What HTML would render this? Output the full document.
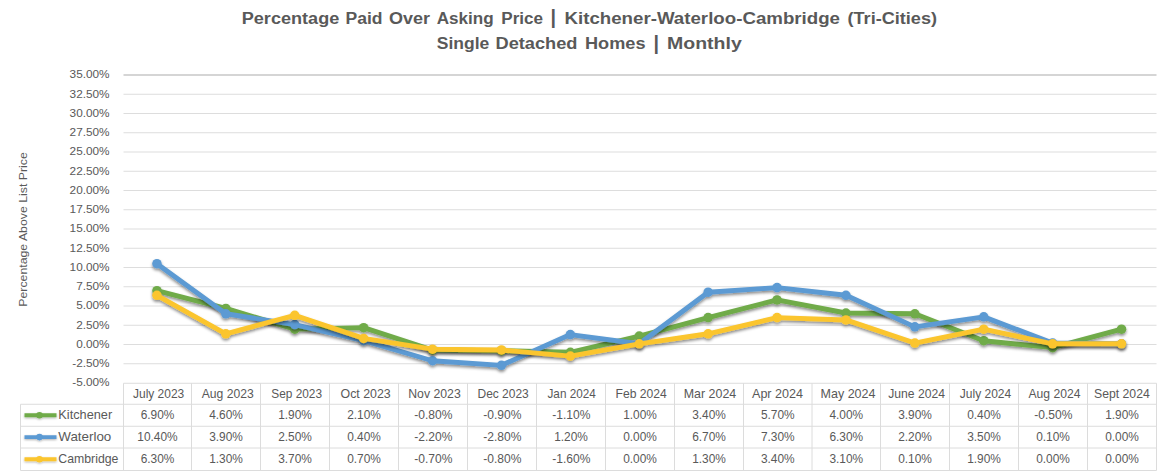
<!DOCTYPE html>
<html lang="en"><head><meta charset="utf-8"><title>Percentage Paid Over Asking Price</title>
<style>html,body{margin:0;padding:0;background:#fff}body{width:1164px;height:473px;overflow:hidden}svg{display:block}text{font-family:"Liberation Sans",Arial,sans-serif;fill:#595959}</style></head><body>
<svg width="1164" height="473" viewBox="0 0 1164 473">
<defs><filter id="sh" x="-5%" y="-30%" width="110%" height="170%"><feGaussianBlur in="SourceAlpha" stdDeviation="1.6"/><feOffset dx="0" dy="1.6" result="b"/><feFlood flood-color="#000" flood-opacity="0.45"/><feComposite in2="b" operator="in"/><feMerge><feMergeNode/><feMergeNode in="SourceGraphic"/></feMerge></filter><filter id="sh2" x="-20%" y="-150%" width="140%" height="400%"><feGaussianBlur in="SourceAlpha" stdDeviation="1"/><feOffset dx="0" dy="1" result="b"/><feFlood flood-color="#000" flood-opacity="0.3"/><feComposite in2="b" operator="in"/><feMerge><feMergeNode/><feMergeNode in="SourceGraphic"/></feMerge></filter></defs>
<rect width="1164" height="473" fill="#fff"/>
<text font-size="16.80" font-weight="bold"><tspan x="241.75" y="23.80" textLength="97.49" lengthAdjust="spacingAndGlyphs">Percentage</tspan> <tspan x="345.50" y="23.80" textLength="37.00" lengthAdjust="spacingAndGlyphs">Paid</tspan> <tspan x="389.00" y="23.80" textLength="41.01" lengthAdjust="spacingAndGlyphs">Over</tspan> <tspan x="436.75" y="23.80" textLength="57.00" lengthAdjust="spacingAndGlyphs">Asking</tspan> <tspan x="501.25" y="23.80" textLength="41.76" lengthAdjust="spacingAndGlyphs">Price</tspan> <tspan x="550.50" y="24.30" font-size="19.66">|</tspan> <tspan x="564.50" y="23.80" textLength="275.50" lengthAdjust="spacingAndGlyphs">Kitchener-Waterloo-Cambridge</tspan> <tspan x="847.50" y="23.80" textLength="89.50" lengthAdjust="spacingAndGlyphs">(Tri-Cities)</tspan></text>
<text font-size="16.80" font-weight="bold"><tspan x="436.75" y="49.30" textLength="52.49" lengthAdjust="spacingAndGlyphs">Single</tspan> <tspan x="495.50" y="49.30" textLength="81.99" lengthAdjust="spacingAndGlyphs">Detached</tspan> <tspan x="585.00" y="49.30" textLength="60.51" lengthAdjust="spacingAndGlyphs">Homes</tspan> <tspan x="653.50" y="49.80" font-size="19.66">|</tspan> <tspan x="667.00" y="49.30" textLength="74.74" lengthAdjust="spacingAndGlyphs">Monthly</tspan></text>
<line x1="123.50" y1="75.00" x2="1156.50" y2="75.00" stroke="#D5D5D5" stroke-width="1.8"/>
<text x="109.6" y="78.40" text-anchor="end" font-size="11.8">35.00%</text>
<line x1="123.50" y1="94.25" x2="1156.50" y2="94.25" stroke="#DDDDDD" stroke-width="1"/>
<text x="109.6" y="97.65" text-anchor="end" font-size="11.8">32.50%</text>
<line x1="123.50" y1="113.50" x2="1156.50" y2="113.50" stroke="#DDDDDD" stroke-width="1"/>
<text x="109.6" y="116.90" text-anchor="end" font-size="11.8">30.00%</text>
<line x1="123.50" y1="132.75" x2="1156.50" y2="132.75" stroke="#DDDDDD" stroke-width="1"/>
<text x="109.6" y="136.15" text-anchor="end" font-size="11.8">27.50%</text>
<line x1="123.50" y1="152.00" x2="1156.50" y2="152.00" stroke="#DDDDDD" stroke-width="1"/>
<text x="109.6" y="155.40" text-anchor="end" font-size="11.8">25.00%</text>
<line x1="123.50" y1="171.25" x2="1156.50" y2="171.25" stroke="#DDDDDD" stroke-width="1"/>
<text x="109.6" y="174.65" text-anchor="end" font-size="11.8">22.50%</text>
<line x1="123.50" y1="190.50" x2="1156.50" y2="190.50" stroke="#DDDDDD" stroke-width="1"/>
<text x="109.6" y="193.90" text-anchor="end" font-size="11.8">20.00%</text>
<line x1="123.50" y1="209.75" x2="1156.50" y2="209.75" stroke="#DDDDDD" stroke-width="1"/>
<text x="109.6" y="213.15" text-anchor="end" font-size="11.8">17.50%</text>
<line x1="123.50" y1="229.00" x2="1156.50" y2="229.00" stroke="#DDDDDD" stroke-width="1"/>
<text x="109.6" y="232.40" text-anchor="end" font-size="11.8">15.00%</text>
<line x1="123.50" y1="248.25" x2="1156.50" y2="248.25" stroke="#DDDDDD" stroke-width="1"/>
<text x="109.6" y="251.65" text-anchor="end" font-size="11.8">12.50%</text>
<line x1="123.50" y1="267.50" x2="1156.50" y2="267.50" stroke="#DDDDDD" stroke-width="1"/>
<text x="109.6" y="270.90" text-anchor="end" font-size="11.8">10.00%</text>
<line x1="123.50" y1="286.75" x2="1156.50" y2="286.75" stroke="#DDDDDD" stroke-width="1"/>
<text x="109.6" y="290.15" text-anchor="end" font-size="11.8">7.50%</text>
<line x1="123.50" y1="306.00" x2="1156.50" y2="306.00" stroke="#DDDDDD" stroke-width="1"/>
<text x="109.6" y="309.40" text-anchor="end" font-size="11.8">5.00%</text>
<line x1="123.50" y1="325.25" x2="1156.50" y2="325.25" stroke="#DDDDDD" stroke-width="1"/>
<text x="109.6" y="328.65" text-anchor="end" font-size="11.8">2.50%</text>
<line x1="123.50" y1="344.50" x2="1156.50" y2="344.50" stroke="#DDDDDD" stroke-width="1"/>
<text x="109.6" y="347.90" text-anchor="end" font-size="11.8">0.00%</text>
<line x1="123.50" y1="363.75" x2="1156.50" y2="363.75" stroke="#DDDDDD" stroke-width="1"/>
<text x="109.6" y="367.15" text-anchor="end" font-size="11.8">-2.50%</text>
<text x="109.6" y="386.40" text-anchor="end" font-size="11.8">-5.00%</text>
<text transform="translate(27.0,229.5) rotate(-90)" text-anchor="middle" font-size="11.8" textLength="154.5" lengthAdjust="spacingAndGlyphs">Percentage Above List Price</text>
<g stroke="#DCDCDC" stroke-width="1" fill="none">
<line x1="123.50" y1="383.25" x2="1156.50" y2="383.25"/>
<line x1="20.50" y1="404.25" x2="1156.50" y2="404.25"/>
<line x1="20.50" y1="426.25" x2="1156.50" y2="426.25"/>
<line x1="20.50" y1="448.00" x2="1156.50" y2="448.00"/>
<line x1="20.50" y1="470.50" x2="1156.50" y2="470.50"/>
<line x1="20.50" y1="404.25" x2="20.50" y2="470.50"/>
<line x1="123.50" y1="383.25" x2="123.50" y2="470.50"/>
<line x1="191.50" y1="383.25" x2="191.50" y2="470.50"/>
<line x1="260.50" y1="383.25" x2="260.50" y2="470.50"/>
<line x1="329.50" y1="383.25" x2="329.50" y2="470.50"/>
<line x1="398.50" y1="383.25" x2="398.50" y2="470.50"/>
<line x1="467.50" y1="383.25" x2="467.50" y2="470.50"/>
<line x1="536.50" y1="383.25" x2="536.50" y2="470.50"/>
<line x1="605.50" y1="383.25" x2="605.50" y2="470.50"/>
<line x1="674.50" y1="383.25" x2="674.50" y2="470.50"/>
<line x1="743.50" y1="383.25" x2="743.50" y2="470.50"/>
<line x1="812.00" y1="383.25" x2="812.00" y2="470.50"/>
<line x1="880.50" y1="383.25" x2="880.50" y2="470.50"/>
<line x1="949.50" y1="383.25" x2="949.50" y2="470.50"/>
<line x1="1018.50" y1="383.25" x2="1018.50" y2="470.50"/>
<line x1="1087.50" y1="383.25" x2="1087.50" y2="470.50"/>
<line x1="1156.50" y1="383.25" x2="1156.50" y2="470.50"/>
</g>
<text x="133.00" y="398" font-size="12.2" textLength="51.25" lengthAdjust="spacingAndGlyphs">July 2023</text>
<text x="201.75" y="398" font-size="12.2" textLength="52.00" lengthAdjust="spacingAndGlyphs">Aug 2023</text>
<text x="271.25" y="398" font-size="12.2" textLength="50.75" lengthAdjust="spacingAndGlyphs">Sep 2023</text>
<text x="340.50" y="398" font-size="12.2" textLength="50.25" lengthAdjust="spacingAndGlyphs">Oct 2023</text>
<text x="408.25" y="398" font-size="12.2" textLength="52.50" lengthAdjust="spacingAndGlyphs">Nov 2023</text>
<text x="477.50" y="398" font-size="12.2" textLength="51.25" lengthAdjust="spacingAndGlyphs">Dec 2023</text>
<text x="547.50" y="398" font-size="12.2" textLength="48.25" lengthAdjust="spacingAndGlyphs">Jan 2024</text>
<text x="615.50" y="398" font-size="12.2" textLength="51.25" lengthAdjust="spacingAndGlyphs">Feb 2024</text>
<text x="683.75" y="398" font-size="12.2" textLength="52.50" lengthAdjust="spacingAndGlyphs">Mar 2024</text>
<text x="752.00" y="398" font-size="12.2" textLength="51.00" lengthAdjust="spacingAndGlyphs">Apr 2024</text>
<text x="820.50" y="398" font-size="12.2" textLength="55.00" lengthAdjust="spacingAndGlyphs">May 2024</text>
<text x="888.30" y="398" font-size="12.2" textLength="56.70" lengthAdjust="spacingAndGlyphs">June 2024</text>
<text x="959.75" y="398" font-size="12.2" textLength="51.50" lengthAdjust="spacingAndGlyphs">July 2024</text>
<text x="1028.50" y="398" font-size="12.2" textLength="52.00" lengthAdjust="spacingAndGlyphs">Aug 2024</text>
<text x="1094.00" y="398" font-size="12.2" textLength="55.75" lengthAdjust="spacingAndGlyphs">Sept 2024</text>
<g filter="url(#sh2)"><line x1="24.5" y1="415.25" x2="56.5" y2="415.25" stroke="#6FAB49" stroke-width="3.8"/>
<circle cx="39.5" cy="415.25" r="3.3" fill="#6FAB49"/></g>
<text x="58.3" y="419.15" font-size="12.4" textLength="53.90" lengthAdjust="spacingAndGlyphs">Kitchener</text>
<text x="157.50" y="419.15" text-anchor="middle" font-size="11.9">6.90%</text>
<text x="226.00" y="419.15" text-anchor="middle" font-size="11.9">4.60%</text>
<text x="295.00" y="419.15" text-anchor="middle" font-size="11.9">1.90%</text>
<text x="364.00" y="419.15" text-anchor="middle" font-size="11.9">2.10%</text>
<text x="414.20" y="419.15" font-size="11.9" textLength="38.21" lengthAdjust="spacingAndGlyphs">-0.80%</text>
<text x="483.20" y="419.15" font-size="11.9" textLength="38.21" lengthAdjust="spacingAndGlyphs">-0.90%</text>
<text x="552.20" y="419.15" font-size="11.9" textLength="38.21" lengthAdjust="spacingAndGlyphs">-1.10%</text>
<text x="640.00" y="419.15" text-anchor="middle" font-size="11.9">1.00%</text>
<text x="709.00" y="419.15" text-anchor="middle" font-size="11.9">3.40%</text>
<text x="777.75" y="419.15" text-anchor="middle" font-size="11.9">5.70%</text>
<text x="846.25" y="419.15" text-anchor="middle" font-size="11.9">4.00%</text>
<text x="915.00" y="419.15" text-anchor="middle" font-size="11.9">3.90%</text>
<text x="984.00" y="419.15" text-anchor="middle" font-size="11.9">0.40%</text>
<text x="1034.20" y="419.15" font-size="11.9" textLength="38.21" lengthAdjust="spacingAndGlyphs">-0.50%</text>
<text x="1122.00" y="419.15" text-anchor="middle" font-size="11.9">1.90%</text>
<g filter="url(#sh2)"><line x1="24.5" y1="437.12" x2="56.5" y2="437.12" stroke="#5B9AD3" stroke-width="3.8"/>
<circle cx="39.5" cy="437.12" r="3.3" fill="#5B9AD3"/></g>
<text x="58.3" y="441.02" font-size="12.4" textLength="53.00" lengthAdjust="spacingAndGlyphs">Waterloo</text>
<text x="157.50" y="441.02" text-anchor="middle" font-size="11.9">10.40%</text>
<text x="226.00" y="441.02" text-anchor="middle" font-size="11.9">3.90%</text>
<text x="295.00" y="441.02" text-anchor="middle" font-size="11.9">2.50%</text>
<text x="364.00" y="441.02" text-anchor="middle" font-size="11.9">0.40%</text>
<text x="414.20" y="441.02" font-size="11.9" textLength="38.21" lengthAdjust="spacingAndGlyphs">-2.20%</text>
<text x="483.20" y="441.02" font-size="11.9" textLength="38.21" lengthAdjust="spacingAndGlyphs">-2.80%</text>
<text x="571.00" y="441.02" text-anchor="middle" font-size="11.9">1.20%</text>
<text x="640.00" y="441.02" text-anchor="middle" font-size="11.9">0.00%</text>
<text x="709.00" y="441.02" text-anchor="middle" font-size="11.9">6.70%</text>
<text x="777.75" y="441.02" text-anchor="middle" font-size="11.9">7.30%</text>
<text x="846.25" y="441.02" text-anchor="middle" font-size="11.9">6.30%</text>
<text x="915.00" y="441.02" text-anchor="middle" font-size="11.9">2.20%</text>
<text x="984.00" y="441.02" text-anchor="middle" font-size="11.9">3.50%</text>
<text x="1053.00" y="441.02" text-anchor="middle" font-size="11.9">0.10%</text>
<text x="1122.00" y="441.02" text-anchor="middle" font-size="11.9">0.00%</text>
<g filter="url(#sh2)"><line x1="24.5" y1="459.25" x2="56.5" y2="459.25" stroke="#FBC52D" stroke-width="3.8"/>
<circle cx="39.5" cy="459.25" r="3.3" fill="#FBC52D"/></g>
<text x="58.3" y="463.15" font-size="12.4" textLength="60.10" lengthAdjust="spacingAndGlyphs">Cambridge</text>
<text x="157.50" y="463.15" text-anchor="middle" font-size="11.9">6.30%</text>
<text x="226.00" y="463.15" text-anchor="middle" font-size="11.9">1.30%</text>
<text x="295.00" y="463.15" text-anchor="middle" font-size="11.9">3.70%</text>
<text x="364.00" y="463.15" text-anchor="middle" font-size="11.9">0.70%</text>
<text x="414.20" y="463.15" font-size="11.9" textLength="38.21" lengthAdjust="spacingAndGlyphs">-0.70%</text>
<text x="483.20" y="463.15" font-size="11.9" textLength="38.21" lengthAdjust="spacingAndGlyphs">-0.80%</text>
<text x="552.20" y="463.15" font-size="11.9" textLength="38.21" lengthAdjust="spacingAndGlyphs">-1.60%</text>
<text x="640.00" y="463.15" text-anchor="middle" font-size="11.9">0.00%</text>
<text x="709.00" y="463.15" text-anchor="middle" font-size="11.9">1.30%</text>
<text x="777.75" y="463.15" text-anchor="middle" font-size="11.9">3.40%</text>
<text x="846.25" y="463.15" text-anchor="middle" font-size="11.9">3.10%</text>
<text x="915.00" y="463.15" text-anchor="middle" font-size="11.9">0.10%</text>
<text x="984.00" y="463.15" text-anchor="middle" font-size="11.9">1.90%</text>
<text x="1053.00" y="463.15" text-anchor="middle" font-size="11.9">0.00%</text>
<text x="1122.00" y="463.15" text-anchor="middle" font-size="11.9">0.00%</text>
<g filter="url(#sh)">
<polyline fill="none" stroke="#6FAB49" stroke-width="4.9" stroke-linejoin="round" stroke-linecap="round" points="156.95,290.67 225.85,308.38 294.75,329.17 363.65,327.63 432.55,349.96 501.45,350.73 570.35,352.27 639.25,336.10 708.15,317.62 777.05,299.91 845.95,313.00 914.85,313.77 983.75,340.72 1052.65,347.65 1121.55,329.17"/>
<circle cx="156.95" cy="290.67" r="4.75" fill="#6FAB49"/>
<circle cx="225.85" cy="308.38" r="4.75" fill="#6FAB49"/>
<circle cx="294.75" cy="329.17" r="4.75" fill="#6FAB49"/>
<circle cx="363.65" cy="327.63" r="4.75" fill="#6FAB49"/>
<circle cx="432.55" cy="349.96" r="4.75" fill="#6FAB49"/>
<circle cx="501.45" cy="350.73" r="4.75" fill="#6FAB49"/>
<circle cx="570.35" cy="352.27" r="4.75" fill="#6FAB49"/>
<circle cx="639.25" cy="336.10" r="4.75" fill="#6FAB49"/>
<circle cx="708.15" cy="317.62" r="4.75" fill="#6FAB49"/>
<circle cx="777.05" cy="299.91" r="4.75" fill="#6FAB49"/>
<circle cx="845.95" cy="313.00" r="4.75" fill="#6FAB49"/>
<circle cx="914.85" cy="313.77" r="4.75" fill="#6FAB49"/>
<circle cx="983.75" cy="340.72" r="4.75" fill="#6FAB49"/>
<circle cx="1052.65" cy="347.65" r="4.75" fill="#6FAB49"/>
<circle cx="1121.55" cy="329.17" r="4.75" fill="#6FAB49"/>
</g>
<g filter="url(#sh)">
<polyline fill="none" stroke="#5B9AD3" stroke-width="4.9" stroke-linejoin="round" stroke-linecap="round" points="156.95,263.72 225.85,313.77 294.75,324.55 363.65,340.72 432.55,360.74 501.45,365.36 570.35,334.56 639.25,343.80 708.15,292.21 777.05,287.59 845.95,295.29 914.85,326.86 983.75,316.85 1052.65,343.03 1121.55,343.80"/>
<circle cx="156.95" cy="263.72" r="4.75" fill="#5B9AD3"/>
<circle cx="225.85" cy="313.77" r="4.75" fill="#5B9AD3"/>
<circle cx="294.75" cy="324.55" r="4.75" fill="#5B9AD3"/>
<circle cx="363.65" cy="340.72" r="4.75" fill="#5B9AD3"/>
<circle cx="432.55" cy="360.74" r="4.75" fill="#5B9AD3"/>
<circle cx="501.45" cy="365.36" r="4.75" fill="#5B9AD3"/>
<circle cx="570.35" cy="334.56" r="4.75" fill="#5B9AD3"/>
<circle cx="639.25" cy="343.80" r="4.75" fill="#5B9AD3"/>
<circle cx="708.15" cy="292.21" r="4.75" fill="#5B9AD3"/>
<circle cx="777.05" cy="287.59" r="4.75" fill="#5B9AD3"/>
<circle cx="845.95" cy="295.29" r="4.75" fill="#5B9AD3"/>
<circle cx="914.85" cy="326.86" r="4.75" fill="#5B9AD3"/>
<circle cx="983.75" cy="316.85" r="4.75" fill="#5B9AD3"/>
<circle cx="1052.65" cy="343.03" r="4.75" fill="#5B9AD3"/>
<circle cx="1121.55" cy="343.80" r="4.75" fill="#5B9AD3"/>
</g>
<g filter="url(#sh)">
<polyline fill="none" stroke="#FBC52D" stroke-width="4.9" stroke-linejoin="round" stroke-linecap="round" points="156.95,295.29 225.85,333.79 294.75,315.31 363.65,338.41 432.55,349.19 501.45,349.96 570.35,356.12 639.25,343.80 708.15,333.79 777.05,317.62 845.95,319.93 914.85,343.03 983.75,329.17 1052.65,343.80 1121.55,343.80"/>
<circle cx="156.95" cy="295.29" r="4.75" fill="#FBC52D"/>
<circle cx="225.85" cy="333.79" r="4.75" fill="#FBC52D"/>
<circle cx="294.75" cy="315.31" r="4.75" fill="#FBC52D"/>
<circle cx="363.65" cy="338.41" r="4.75" fill="#FBC52D"/>
<circle cx="432.55" cy="349.19" r="4.75" fill="#FBC52D"/>
<circle cx="501.45" cy="349.96" r="4.75" fill="#FBC52D"/>
<circle cx="570.35" cy="356.12" r="4.75" fill="#FBC52D"/>
<circle cx="639.25" cy="343.80" r="4.75" fill="#FBC52D"/>
<circle cx="708.15" cy="333.79" r="4.75" fill="#FBC52D"/>
<circle cx="777.05" cy="317.62" r="4.75" fill="#FBC52D"/>
<circle cx="845.95" cy="319.93" r="4.75" fill="#FBC52D"/>
<circle cx="914.85" cy="343.03" r="4.75" fill="#FBC52D"/>
<circle cx="983.75" cy="329.17" r="4.75" fill="#FBC52D"/>
<circle cx="1052.65" cy="343.80" r="4.75" fill="#FBC52D"/>
<circle cx="1121.55" cy="343.80" r="4.75" fill="#FBC52D"/>
</g>
</svg></body></html>
